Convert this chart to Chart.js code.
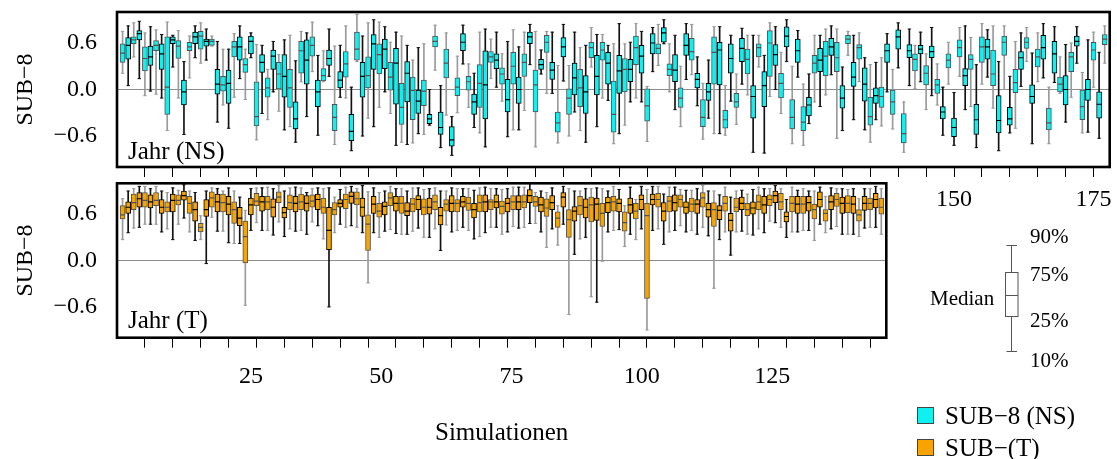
<!DOCTYPE html>
<html><head><meta charset="utf-8">
<script src="https://cdn.jsdelivr.net/npm/chart.js@4.4.0/dist/chart.umd.min.js"></script>
<style>
html,body{margin:0;padding:0;background:#fff;}
body{width:1117px;height:459px;position:relative;overflow:hidden;font-family:"Liberation Serif","Times New Roman",serif;color:#000;}
canvas{position:absolute;}
#cTop{left:0;top:0;width:1117px;height:230px;}
#cBot{left:0;top:170px;width:895px;height:289px;}
.t{position:absolute;white-space:nowrap;}
.big{font-size:25px;line-height:25px;}
.small{font-size:21px;line-height:21px;}
.sq{position:absolute;width:15px;height:15px;border:1px solid #444;}
</style></head><body>
<canvas id="cTop" width="1117" height="230"></canvas>
<canvas id="cBot" width="895" height="289"></canvas>

<div class="t big" style="left:128px;top:138px;">Jahr (NS)</div>
<div class="t big" style="left:128px;top:307px;">Jahr (T)</div>

<svg style="position:absolute;left:990px;top:240px;" width="40" height="120">
  <g stroke="#555" stroke-width="1" fill="none">
    <line x1="21.5" y1="5" x2="21.5" y2="112"/>
    <line x1="16.5" y1="5.5" x2="27" y2="5.5"/>
    <line x1="16.5" y1="111.5" x2="27" y2="111.5"/>
    <rect x="15.5" y="32.5" width="12.5" height="44" fill="#fff"/>
    <line x1="15.5" y1="55.5" x2="28" y2="55.5"/>
  </g>
</svg>
<div class="t small" style="left:1030px;top:226px;">90%</div>
<div class="t small" style="left:1030px;top:264px;">75%</div>
<div class="t small" style="left:1030px;top:310px;">25%</div>
<div class="t small" style="left:1030px;top:350px;">10%</div>
<div class="t small" style="left:930px;top:288px;">Median</div>

<div class="sq" style="left:917px;top:407px;background:#10f0f0;"></div>
<div class="t big" style="left:945px;top:403px;">SUB−8 (NS)</div>
<div class="sq" style="left:917px;top:439px;background:#f7a400;"></div>
<div class="t big" style="left:945px;top:435px;">SUB−(T)</div>

<script>
// ---------------- DATA ----------------
// Panel "Jahr (NS)": percentiles per simulation 1..177
const ns90 = [0.75,0.82,0.86,0.88,0.73,0.81,0.77,0.71,0.87,0.70,
0.76,0.36,0.69,0.82,0.86,0.78,0.69,0.62,0.52,0.52,
0.72,0.82,0.52,0.73,0.58,0.57,0.26,0.62,0.45,0.64,
0.70,0.37,0.75,0.73,0.87,0.44,0.50,0.78,0.56,0.57,
0.82,0.03,0.97,0.69,0.86,0.90,0.87,0.81,0.61,0.74,
0.69,0.57,0.38,0.54,0.59,0.00,0.83,0.05,0.73,-0.35,
0.43,0.83,0.33,0.21,0.74,0.78,0.65,0.74,0.46,0.62,
0.77,0.55,0.74,0.84,0.75,0.51,0.75,0.74,0.31,0.84,
0.31,0.74,0.54,0.57,0.80,0.71,0.71,0.57,0.59,0.85,
0.59,0.61,0.85,0.75,0.04,0.80,0.84,0.90,0.59,0.70,
0.30,0.85,0.84,0.42,0.08,0.38,0.81,0.81,0.05,0.70,
0.20,0.79,0.70,0.70,0.70,0.44,0.86,0.81,0.48,0.90,
0.30,0.76,0.07,0.20,0.70,0.70,0.78,0.82,0.78,0.29,
0.75,0.70,0.73,0.41,0.32,0.35,0.41,0.72,0.26,0.86,
-0.16,0.78,0.57,0.74,0.46,0.80,0.33,0.03,0.61,-0.04,
0.80,0.82,0.67,0.32,0.85,0.77,0.82,0.36,0.82,0.17,
0.62,0.73,0.80,0.47,0.73,0.85,0.03,0.81,0.42,0.58,
0.60,0.81,0.22,0.64,0.74,0.48,0.82];
const ns75 = [0.59,0.67,0.68,0.76,0.55,0.56,0.63,0.59,0.68,0.68,
0.63,0.12,0.61,0.74,0.75,0.65,0.65,0.26,0.17,0.25,
0.62,0.68,0.40,0.69,0.10,0.45,0.15,0.51,0.35,0.45,
0.26,-0.16,0.62,0.64,0.68,0.12,0.27,0.51,-0.19,0.23,
0.49,-0.32,0.74,0.35,0.42,0.71,0.59,0.65,0.35,0.53,
0.08,0.36,0.16,0.00,0.12,-0.32,0.69,-0.29,0.52,-0.48,
0.15,0.72,0.17,-0.06,0.32,0.50,0.49,0.46,0.28,0.13,
0.48,0.16,0.46,0.74,0.25,0.39,0.70,0.35,-0.29,0.67,
0.01,0.34,0.26,0.18,0.61,0.44,0.61,0.48,0.11,0.44,
0.40,0.39,0.69,0.57,0.01,0.72,0.59,0.80,0.33,0.45,
0.02,0.72,0.66,0.21,-0.13,0.08,0.68,0.61,-0.27,0.59,
-0.05,0.66,0.52,0.05,0.59,0.23,0.76,0.58,0.21,0.81,
-0.13,0.65,-0.22,-0.10,0.44,0.53,0.62,0.66,0.61,0.05,
0.70,0.35,0.58,0.28,-0.10,0.02,0.03,0.59,0.00,0.77,
-0.31,0.58,0.46,0.57,0.31,0.56,0.13,-0.22,0.46,-0.37,
0.64,0.27,0.45,-0.19,0.68,0.65,0.51,-0.08,0.69,-0.23,
0.26,0.49,0.67,0.06,0.52,0.70,-0.24,0.62,0.16,0.18,
0.48,0.69,0.00,0.13,0.61,-0.03,0.71];
const ns50 = [0.47,0.57,0.64,0.72,0.40,0.42,0.57,0.46,0.03,0.64,
0.56,-0.03,0.55,0.68,0.69,0.62,0.62,0.07,0.06,0.08,
0.55,0.55,0.32,0.62,-0.35,0.35,0.02,0.43,0.20,0.17,
0.02,-0.38,0.50,0.38,0.57,-0.03,0.18,0.40,-0.36,0.12,
0.33,-0.54,0.52,0.17,0.18,0.59,0.45,0.52,0.16,0.34,
-0.23,0.21,-0.01,-0.15,-0.02,-0.38,0.62,-0.49,0.34,-0.65,
0.03,0.61,0.10,-0.16,0.08,0.06,0.42,0.38,0.20,-0.13,
0.30,0.00,0.35,0.68,0.06,0.32,0.61,0.25,-0.43,0.55,
-0.11,0.15,0.02,-0.03,0.54,0.17,0.51,0.34,-0.32,0.24,
0.26,0.26,0.54,0.43,-0.21,0.60,0.53,0.73,0.26,0.25,
-0.11,0.57,0.49,0.13,-0.36,-0.03,0.48,0.51,-0.39,0.40,
-0.16,0.53,0.39,-0.09,0.54,0.05,0.60,0.45,0.08,0.69,
-0.36,0.50,-0.42,-0.20,0.34,0.38,0.43,0.55,0.41,-0.11,
0.65,0.16,0.54,0.07,-0.35,-0.08,-0.09,0.50,-0.16,0.68,
-0.57,0.50,0.39,0.52,0.21,0.49,0.06,-0.29,0.38,-0.49,
0.54,0.18,0.39,-0.39,0.55,0.55,0.20,-0.40,0.61,-0.38,
0.09,0.41,0.61,-0.09,0.42,0.54,-0.43,0.46,0.07,0.00,
0.42,0.62,-0.22,0.00,0.51,-0.19,0.65];
const ns25 = [0.35,0.39,0.59,0.64,0.24,0.31,0.50,0.26,-0.32,0.59,
0.40,-0.20,0.50,0.59,0.52,0.56,0.57,-0.06,-0.02,-0.18,
0.42,0.38,0.22,0.46,-0.47,0.22,-0.10,0.26,0.00,-0.10,
-0.23,-0.51,0.21,0.07,0.43,-0.22,0.11,0.31,-0.53,0.02,
0.16,-0.66,0.38,-0.10,0.02,0.26,0.20,0.27,-0.01,-0.19,
-0.45,-0.16,-0.39,-0.31,-0.21,-0.44,0.55,-0.58,0.15,-0.73,
-0.08,0.50,-0.01,-0.32,-0.23,-0.38,0.35,0.27,0.07,-0.29,
0.07,-0.18,0.17,0.59,-0.29,0.26,0.48,0.13,-0.55,0.42,
-0.32,-0.07,-0.22,-0.31,0.41,-0.07,0.38,0.07,-0.55,-0.05,
-0.03,0.10,0.32,0.21,-0.41,0.46,0.46,0.61,0.18,0.10,
-0.23,0.44,0.38,0.02,-0.48,-0.14,0.07,0.06,-0.50,0.21,
-0.23,0.36,0.20,-0.37,0.42,-0.22,0.17,0.31,-0.11,0.55,
-0.51,0.35,-0.53,-0.34,0.21,0.23,0.18,0.44,0.23,-0.24,
0.59,0.04,0.39,-0.15,-0.46,-0.18,-0.23,0.35,-0.32,0.52,
-0.69,0.41,0.24,0.46,0.06,0.41,-0.05,-0.38,0.28,-0.61,
0.42,0.05,0.26,-0.58,0.35,0.39,0.05,-0.56,0.44,-0.46,
-0.04,0.26,0.53,-0.18,0.29,0.39,-0.52,0.21,-0.03,-0.20,
0.23,0.56,-0.39,-0.14,0.38,-0.37,0.58];
const ns10 = [0.21,0.05,0.42,0.14,-0.08,-0.02,-0.06,-0.11,-0.53,0.29,
-0.11,-0.58,0.15,0.41,0.34,0.38,0.56,-0.42,-0.20,-0.50,
-0.10,0.14,-0.13,0.41,-0.65,-0.31,-0.39,-0.03,-0.28,-0.52,
-0.48,-0.68,0.10,-0.35,0.23,-0.59,0.10,0.17,-0.71,-0.10,
-0.11,-0.79,0.36,-0.60,-0.37,-0.48,-0.23,-0.03,-0.31,-0.72,
-0.68,-0.71,-0.69,-0.57,-0.58,-0.46,0.25,-0.75,-0.33,-0.85,
-0.30,0.33,-0.23,-0.49,-0.56,-0.74,0.14,0.03,-0.15,-0.61,
-0.52,-0.52,-0.27,0.32,-0.74,0.20,-0.05,-0.05,-0.69,0.11,
-0.60,-0.29,-0.53,-0.68,0.29,-0.48,-0.11,-0.14,-0.70,-0.57,
-0.46,-0.16,-0.11,-0.16,-0.67,0.23,0.31,0.59,-0.03,-0.26,
-0.48,0.13,0.19,-0.21,-0.64,-0.37,-0.57,-0.57,-0.59,-0.15,
-0.45,0.07,-0.07,-0.81,0.29,-0.82,-0.09,0.00,-0.31,0.36,
-0.70,0.16,-0.72,-0.44,-0.16,-0.22,-0.07,0.19,-0.63,-0.53,
0.44,-0.39,0.10,-0.52,-0.68,-0.39,-0.47,-0.03,-0.51,0.28,
-0.81,0.05,0.01,0.10,-0.26,-0.08,-0.20,-0.59,0.07,-0.72,
0.17,-0.26,-0.22,-0.75,0.07,0.16,-0.24,-0.79,0.00,-0.56,
-0.50,0.04,0.36,-0.70,0.10,0.15,-0.70,0.09,-0.05,-0.42,
-0.10,0.34,-0.56,-0.55,0.03,-0.63,0.34];

// Panel "Jahr (T)": percentiles per simulation 1..137
const t90 = [0.80,0.90,0.93,0.96,0.96,0.93,0.96,0.90,0.88,0.94,
0.91,0.98,0.90,0.88,0.58,0.90,0.94,0.93,0.90,0.94,
0.90,0.82,0.65,0.93,0.94,0.94,0.95,0.93,0.97,0.90,
0.94,0.95,0.94,0.88,0.93,0.94,0.93,0.94,0.82,0.92,
0.95,0.96,0.93,0.97,0.89,0.94,0.88,0.90,0.96,0.93,
0.93,0.90,0.94,0.94,0.92,0.93,0.94,0.90,0.90,0.94,
0.93,0.93,0.93,0.91,0.94,0.95,0.93,0.93,0.92,0.93,
0.95,0.95,0.95,1.00,0.88,0.90,0.88,0.94,0.71,0.96,
0.93,0.90,0.90,0.93,0.93,0.94,0.93,0.90,0.96,0.92,
0.71,0.95,0.79,0.96,0.92,0.96,0.96,0.86,0.95,0.95,
0.92,0.91,0.91,0.93,0.97,0.90,0.90,0.85,0.95,0.82,
0.90,0.91,0.86,0.92,0.95,0.93,0.93,0.97,0.93,0.79,
0.95,0.91,0.93,0.90,0.90,0.95,0.83,0.94,0.93,0.93,
0.92,0.93,0.80,0.93,0.93,0.96,0.93];
const t75 = [0.71,0.76,0.86,0.88,0.88,0.85,0.88,0.79,0.76,0.86,
0.85,0.90,0.83,0.76,0.48,0.79,0.89,0.86,0.86,0.83,
0.76,0.69,0.51,0.81,0.87,0.83,0.83,0.80,0.89,0.69,
0.85,0.83,0.86,0.84,0.85,0.86,0.81,0.69,0.75,0.79,
0.86,0.89,0.89,0.81,0.59,0.83,0.74,0.76,0.88,0.83,
0.83,0.75,0.81,0.84,0.80,0.81,0.85,0.69,0.79,0.84,
0.79,0.83,0.82,0.74,0.85,0.85,0.79,0.85,0.77,0.81,
0.84,0.84,0.85,0.92,0.83,0.82,0.80,0.84,0.63,0.88,
0.66,0.70,0.83,0.80,0.82,0.81,0.74,0.82,0.83,0.80,
0.63,0.81,0.74,0.85,0.74,0.86,0.87,0.75,0.83,0.85,
0.85,0.76,0.81,0.79,0.88,0.74,0.75,0.71,0.83,0.61,
0.81,0.82,0.74,0.76,0.85,0.83,0.85,0.90,0.87,0.63,
0.83,0.83,0.83,0.83,0.73,0.89,0.66,0.84,0.87,0.82,
0.84,0.83,0.66,0.83,0.81,0.87,0.81];
const t50 = [0.59,0.69,0.75,0.80,0.78,0.76,0.78,0.69,0.69,0.78,
0.78,0.84,0.74,0.66,0.43,0.66,0.81,0.76,0.75,0.73,
0.66,0.55,0.31,0.72,0.77,0.76,0.76,0.69,0.82,0.62,
0.75,0.74,0.76,0.74,0.77,0.79,0.69,0.39,0.66,0.74,
0.79,0.83,0.80,0.69,0.47,0.73,0.64,0.70,0.81,0.74,
0.74,0.64,0.73,0.79,0.69,0.69,0.76,0.58,0.73,0.74,
0.74,0.76,0.74,0.66,0.75,0.76,0.76,0.76,0.70,0.74,
0.76,0.76,0.76,0.84,0.76,0.72,0.68,0.75,0.55,0.82,
0.53,0.64,0.71,0.69,0.72,0.73,0.61,0.75,0.76,0.74,
0.49,0.72,0.64,0.79,0.58,0.79,0.79,0.64,0.77,0.75,
0.79,0.69,0.73,0.73,0.81,0.66,0.66,0.65,0.74,0.52,
0.69,0.74,0.66,0.68,0.76,0.72,0.79,0.84,0.76,0.57,
0.74,0.73,0.73,0.75,0.66,0.79,0.61,0.76,0.79,0.74,
0.74,0.73,0.59,0.74,0.74,0.79,0.69];
const t25 = [0.54,0.61,0.66,0.69,0.69,0.68,0.71,0.61,0.63,0.63,
0.72,0.78,0.61,0.51,0.37,0.57,0.69,0.63,0.63,0.59,
0.48,0.45,-0.03,0.59,0.71,0.64,0.66,0.56,0.75,0.55,
0.66,0.63,0.66,0.64,0.69,0.66,0.61,0.14,0.59,0.69,
0.67,0.74,0.72,0.57,0.13,0.61,0.56,0.59,0.71,0.64,
0.61,0.58,0.63,0.66,0.59,0.60,0.66,0.46,0.64,0.63,
0.63,0.69,0.65,0.55,0.63,0.63,0.66,0.68,0.60,0.63,
0.66,0.66,0.68,0.75,0.70,0.63,0.57,0.66,0.43,0.69,
0.30,0.51,0.59,0.55,0.50,0.52,0.44,0.62,0.64,0.63,
0.38,0.61,0.54,0.66,-0.49,0.72,0.69,0.51,0.63,0.64,
0.69,0.61,0.63,0.61,0.69,0.56,0.44,0.53,0.64,0.38,
0.63,0.66,0.58,0.60,0.66,0.61,0.71,0.75,0.66,0.50,
0.63,0.61,0.61,0.64,0.54,0.69,0.51,0.66,0.70,0.61,
0.62,0.61,0.51,0.65,0.66,0.68,0.60];
const t10 = [0.27,0.36,0.42,0.43,0.47,0.47,0.47,0.37,0.41,0.27,
0.47,0.55,0.37,0.26,0.27,-0.04,0.56,0.38,0.38,0.23,
0.22,0.22,-0.58,0.39,0.49,0.39,0.39,0.33,0.50,0.31,
0.41,0.38,0.39,0.34,0.50,0.45,0.28,-0.60,0.36,0.47,
0.43,0.45,0.43,0.36,-0.29,0.36,0.30,0.38,0.40,0.35,
0.34,0.34,0.38,0.42,0.30,0.30,0.41,0.13,0.46,0.37,
0.39,0.43,0.39,0.28,0.31,0.36,0.43,0.43,0.34,0.37,
0.44,0.42,0.43,0.48,0.48,0.37,0.17,0.41,0.20,0.47,
-0.70,0.08,0.28,0.30,-0.47,-0.54,-0.01,0.37,0.39,0.40,
0.18,0.34,0.27,0.41,-0.90,0.39,0.41,0.21,0.37,0.39,
0.45,0.37,0.39,0.34,0.43,0.32,-0.36,0.27,0.37,0.07,
0.37,0.38,0.34,0.33,0.41,0.36,0.51,0.49,0.43,0.30,
0.37,0.37,0.39,0.39,0.26,0.47,0.36,0.41,0.44,0.34,
0.34,0.34,0.31,0.42,0.43,0.43,0.34];

// tick labels
const yTicks = [-0.6, 0.0, 0.6];
const xLabelTicks = [25, 50, 75, 100, 125, 150, 175];
const xMinorStep = 5;

// ---------------- CHARTS ----------------
const FONT = '"Liberation Serif","Times New Roman",serif';
Chart.defaults.font.family = FONT;
Chart.defaults.color = '#000';

const CYAN = '#10f0f0', ORANGE = '#f7a400';
const isGray = n => n % 2 === 1;
const whiskerCol = n => isGray(n) ? '#9a9a9a' : '#111';
const edgeCol = n => isGray(n) ? '#505050' : '#000';

function fmtY(v) {
  if (Math.abs(v) < 1e-9) return '0.0';
  return (v < 0 ? '\u2212' : '') + Math.abs(v).toFixed(1);
}
function minorTicks(max) {
  const out = [];
  for (let v = xMinorStep; v <= max; v += xMinorStep) out.push({value: v});
  return out;
}
function noPad(s) { s.paddingTop = 0; s.paddingBottom = 0; s.paddingLeft = 0; s.paddingRight = 0; }

function boxDatasets(p10, p25, p50, p75, p90, fill) {
  const xs = p50.map((_, i) => i + 1);
  return [
    { type: 'bar', order: 3, grouped: false, barThickness: 1, borderWidth: 0,
      data: xs.map((x, i) => ({x, y: [p10[i], p90[i]]})),
      backgroundColor: c => whiskerCol(c.dataIndex + 1) },
    { type: 'bar', order: 2, grouped: false, barThickness: 5, borderWidth: 1, borderSkipped: false,
      data: xs.map((x, i) => ({x, y: [p25[i], p75[i]]})),
      backgroundColor: fill, borderColor: c => edgeCol(c.dataIndex + 1) },
    { type: 'scatter', order: 1, pointStyle: 'line', pointRadius: 1.7, borderWidth: 1,
      data: xs.map((x, i) => ({x, y: p10[i]})).concat(xs.map((x, i) => ({x, y: p90[i]}))),
      borderColor: c => whiskerCol(c.raw ? c.raw.x : 0) },
    { type: 'scatter', order: 0, pointStyle: 'line', pointRadius: 2.5, borderWidth: 1.2,
      data: xs.map((x, i) => ({x, y: p50[i]})),
      borderColor: c => edgeCol(c.raw ? c.raw.x : 0) }
  ];
}

const framePlugin = {
  id: 'frame',
  beforeDraw(chart, args, opts) {
    if (opts.fill) {
      const a = chart.chartArea, ctx = chart.ctx;
      ctx.save(); ctx.fillStyle = '#fff';
      ctx.fillRect(a.left - 2, a.top - 2, a.right - a.left + 4, a.bottom - a.top + 4);
      ctx.restore();
    }
  },
  afterDraw(chart) {
    const a = chart.chartArea, ctx = chart.ctx;
    ctx.save(); ctx.lineWidth = 2.6; ctx.strokeStyle = '#000';
    ctx.strokeRect(a.left, a.top, a.right - a.left, a.bottom - a.top);
    ctx.restore();
  }
};

function yAxis() {
  return {
    min: -1, max: 1,
    afterBuildTicks: s => { s.ticks = yTicks.map(v => ({value: v})); },
    ticks: { font: {size: 24}, padding: 20, callback: v => fmtY(v) },
    grid: { drawTicks: false, lineWidth: 1,
            color: c => (c.tick && Math.abs(c.tick.value) < 1e-9) ? '#8c8c8c' : 'rgba(0,0,0,0)' },
    border: { display: false },
    title: { display: true, text: 'SUB\u22128', font: {size: 24}, padding: {top: 11, bottom: 0} },
    afterFit: s => { s.width = 117; noPad(s); }
  };
}

const common = {
  responsive: false, animation: false, events: [],
  plugins: { legend: {display: false}, tooltip: {enabled: false} }
};

// Top panel
new Chart(document.getElementById('cTop'), {
  type: 'bar',
  data: { datasets: boxDatasets(ns10, ns25, ns50, ns75, ns90, CYAN) },
  plugins: [framePlugin],
  options: Object.assign({}, common, {
    layout: { padding: {top: 12, right: 7.3, left: 0, bottom: 0} },
    plugins: Object.assign({}, common.plugins, { frame: {fill: false} }),
    scales: {
      x: { type: 'linear', min: 0, max: 177.9, offset: false,
           afterBuildTicks: s => { s.ticks = minorTicks(177); },
           ticks: { autoSkip: false, maxRotation: 0, font: {size: 24}, padding: 8,
                    callback: v => xLabelTicks.includes(v) ? String(v) : '' },
           grid: { drawOnChartArea: false, drawTicks: true, tickLength: 10, color: '#000', lineWidth: 1, offset: false },
           border: { display: false },
           afterFit: s => { s.height = 63; noPad(s); } },
      y: yAxis()
    }
  })
});

// Bottom panel
new Chart(document.getElementById('cBot'), {
  type: 'bar',
  data: { datasets: boxDatasets(t10, t25, t50, t75, t90, ORANGE) },
  plugins: [framePlugin],
  options: Object.assign({}, common, {
    layout: { padding: {top: 13.3, right: 8.7, left: 0, bottom: 0} },
    plugins: Object.assign({}, common.plugins, { frame: {fill: true} }),
    scales: {
      x: { type: 'linear', min: 0, max: 137.9, offset: false, weight: 0,
           afterBuildTicks: s => { s.ticks = minorTicks(137); },
           ticks: { autoSkip: false, maxRotation: 0, callback: () => '' },
           grid: { drawOnChartArea: false, drawTicks: true, tickLength: 10, color: '#000', lineWidth: 1, offset: false },
           border: { display: false },
           afterFit: s => { s.height = 10; noPad(s); } },
      x2: { type: 'linear', position: 'bottom', min: -0.7, max: 146.9, offset: false, weight: 1,
            afterBuildTicks: s => { s.ticks = xLabelTicks.filter(v => v <= 125).map(v => ({value: v})); },
            ticks: { autoSkip: false, maxRotation: 0, font: {size: 24}, padding: 6.6 },
            grid: { display: false },
            border: { display: false },
            title: { display: true, text: 'Simulationen', font: {size: 25}, padding: {top: 0, bottom: 11} },
            afterFit: s => { s.height = 111.3; noPad(s); } },
      y: yAxis()
    }
  })
});
</script>
</body></html>
